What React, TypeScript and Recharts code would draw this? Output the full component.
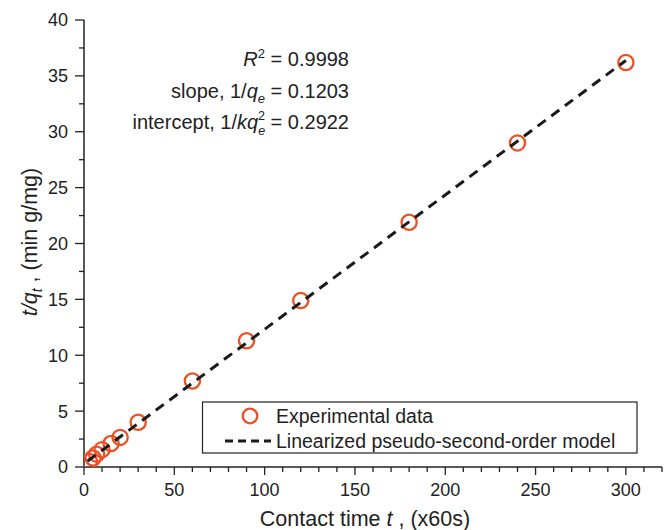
import React from 'react';
import { ScatterChart, Scatter, XAxis, YAxis, Customized } from 'recharts';

// ---- data ----
const timeMin = [3, 5, 7, 10, 15, 20, 30, 60, 90, 120, 180, 240, 300];
const tOverQ = [0.5, 0.8, 1.15, 1.55, 2.1, 2.65, 4.0, 7.7, 11.3, 14.9, 21.9, 29.0, 36.2];
const fitTime = [2, 300];
const fitValue = [0.53, 36.38];
const xTicks = [0, 10, 20, 30, 40, 50, 60, 70, 80, 90, 100, 110, 120, 130, 140, 150, 160, 170, 180, 190, 200, 210, 220, 230, 240, 250, 260, 270, 280, 290, 300, 310, 320];
const yTicks = [0, 2.5, 5, 7.5, 10, 12.5, 15, 17.5, 20, 22.5, 25, 27.5, 30, 32.5, 35, 37.5, 40];
const xLabelTicks = [0, 50, 100, 150, 200, 250, 300];
const yLabelTicks = [0, 5, 10, 15, 20, 25, 30, 35, 40];
const r2Text = '0.9998';
const slopeText = '0.1203';
const interceptText = '0.2922';
const legendNames = ['Experimental data', 'Linearized pseudo-second-order model'];

const expData = timeMin.map((x, i) => ({ x, y: tOverQ[i] }));
const fitData = fitTime.map((x, i) => ({ x, y: fitValue[i] }));

const FONT = '"Liberation Sans", Arial, Helvetica, sans-serif';
const AX = '#222';
const TXT = '#222';
const ORANGE = '#EE5025';

const BottomTick = (p: any) => {
  const v = p.payload.value;
  const major = xLabelTicks.includes(v);
  return (
    <g>
      <line x1={p.x} x2={p.x} y1={p.y} y2={p.y + (major ? 8 : 5)} stroke={AX} strokeWidth={1.3} />
      {major && (
        <text x={p.x} y={p.y + 29} textAnchor="middle" fontSize={18} fill={TXT} fontFamily={FONT}>
          {v}
        </text>
      )}
    </g>
  );
};
const TopTick = (p: any) => {
  const major = xLabelTicks.includes(p.payload.value);
  return <line x1={p.x} x2={p.x} y1={p.y} y2={p.y + (major ? 8 : 5)} stroke={AX} strokeWidth={1.3} />;
};
const LeftTick = (p: any) => {
  const v = p.payload.value;
  const major = yLabelTicks.includes(v);
  return (
    <g>
      <line x1={p.x} x2={p.x - (major ? 9 : 5)} y1={p.y} y2={p.y} stroke={AX} strokeWidth={1.3} />
      {major && (
        <text x={p.x - 16} y={p.y} dy="0.36em" textAnchor="end" fontSize={18} fill={TXT} fontFamily={FONT}>
          {v}
        </text>
      )}
    </g>
  );
};
const RightTick = (p: any) => {
  const major = yLabelTicks.includes(p.payload.value);
  return <line x1={p.x} x2={p.x - (major ? 8 : 5)} y1={p.y} y2={p.y} stroke={AX} strokeWidth={1.3} />;
};

const CircleShape = (p: any) => (
  <circle cx={p.cx} cy={p.cy} r={7.6} fill="none" stroke={ORANGE} strokeWidth={2.3} />
);
const NoShape = () => <g />;

const Overlay = () => (
  <g fontFamily={FONT} fill={TXT}>
    {/* statistics */}
    <text x={349} y={66} textAnchor="end" fontSize={20}>
      <tspan fontStyle="italic">R</tspan>
      <tspan fontSize={13} dy={-8}>2</tspan>
      <tspan dy={8}>{' = ' + r2Text}</tspan>
    </text>
    <text x={349} y={97.5} textAnchor="end" fontSize={20}>
      <tspan>slope, 1/</tspan>
      <tspan fontStyle="italic">q</tspan>
      <tspan fontStyle="italic" fontSize={13} dy={5}>e</tspan>
      <tspan dy={-5}>{' = ' + slopeText}</tspan>
    </text>
    <text x={349} y={129} textAnchor="end" fontSize={20}>
      <tspan>intercept, 1/</tspan>
      <tspan fontStyle="italic">kq</tspan>
      <tspan fontStyle="italic" fontSize={12.5} dy={6}>e</tspan>
      <tspan fontSize={12.5} dx={-7} dy={-15}>2</tspan>
      <tspan dy={9}>{' = ' + interceptText}</tspan>
    </text>

    {/* axis titles */}
    <text x={365} y={526} textAnchor="middle" fontSize={21.5}>
      <tspan>Contact time </tspan>
      <tspan fontStyle="italic">t</tspan>
      <tspan> , (x60s)</tspan>
    </text>
    <text transform="translate(37,242) rotate(-90)" textAnchor="middle" fontSize={21.5}>
      <tspan fontStyle="italic">t/q</tspan>
      <tspan fontStyle="italic" fontSize={14} dy={5}>t</tspan>
      <tspan dy={-5}> , (min g/mg)</tspan>
    </text>

    {/* legend */}
    <rect x={202.5} y={402} width={434.5} height={51} fill="#fff" stroke={AX} strokeWidth={1.2} />
    <circle cx={250} cy={416} r={7.3} fill="none" stroke={ORANGE} strokeWidth={2.3} />
    <text x={276} y={416} dy="0.36em" fontSize={19.5}>{legendNames[0]}</text>
    <line x1={225} x2={271} y1={441} y2={441} stroke="#1a1a1a" strokeWidth={3} strokeDasharray="8 5" />
    <text x={276} y={441} dy="0.36em" fontSize={19.5}>{legendNames[1]}</text>
  </g>
);

export default function App() {
  return (
    <div style={{ position: 'absolute', left: 0, top: 0, width: 665, height: 530, background: '#fff' }}>
      <ScatterChart width={665} height={530} margin={{ top: 20, right: 3, bottom: 20, left: 24 }}>
        <XAxis
          xAxisId="b"
          type="number"
          dataKey="x"
          domain={[0, 320]}
          ticks={xTicks}
          interval={0}
          tickSize={0}
          tickMargin={0}
          tickLine={false}
          tick={<BottomTick />}
          axisLine={{ stroke: AX, strokeWidth: 1.5 }}
          height={43}
          allowDataOverflow
        />
        <XAxis
          xAxisId="t"
          orientation="top"
          type="number"
          dataKey="x"
          domain={[0, 320]}
          ticks={xTicks}
          interval={0}
          tickSize={0}
          tickMargin={0}
          tickLine={false}
          tick={<TopTick />}
          axisLine={{ stroke: AX, strokeWidth: 1.5 }}
          height={0}
          allowDataOverflow
        />
        <YAxis
          yAxisId="l"
          type="number"
          dataKey="y"
          domain={[0, 40]}
          ticks={yTicks}
          interval={0}
          tickSize={0}
          tickMargin={0}
          tickLine={false}
          tick={<LeftTick />}
          axisLine={{ stroke: AX, strokeWidth: 1.5 }}
          width={60}
          allowDataOverflow
        />
        <YAxis
          yAxisId="r"
          orientation="right"
          type="number"
          dataKey="y"
          domain={[0, 40]}
          ticks={yTicks}
          interval={0}
          tickSize={0}
          tickMargin={0}
          tickLine={false}
          tick={<RightTick />}
          axisLine={{ stroke: AX, strokeWidth: 1.5 }}
          width={0}
          allowDataOverflow
        />
        <Customized component={Overlay} />
        <Scatter
          name={legendNames[0]}
          data={expData}
          xAxisId="b"
          yAxisId="l"
          shape={CircleShape}
          isAnimationActive={false}
        />
        <Scatter
          name={legendNames[1]}
          data={fitData}
          xAxisId="b"
          yAxisId="l"
          shape={NoShape}
          line={{ stroke: '#1a1a1a', strokeWidth: 3, strokeDasharray: '10 7' }}
          lineType="joint"
          isAnimationActive={false}
        />
      </ScatterChart>
    </div>
  );
}
